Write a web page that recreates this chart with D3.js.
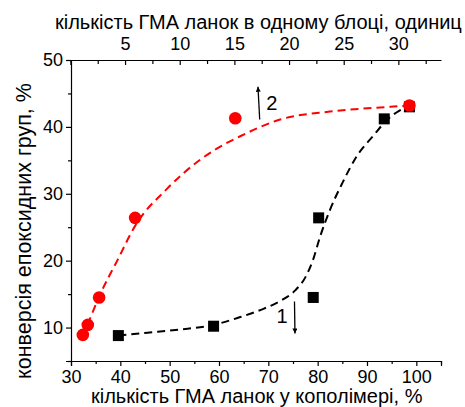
<!DOCTYPE html>
<html>
<head>
<meta charset="utf-8">
<script src="https://cdn.jsdelivr.net/npm/d3@7/dist/d3.min.js"></script>
<style>
  html, body { margin: 0; padding: 0; background: #fff; }
  svg { display: block; font-family: Arial, "Liberation Sans", sans-serif; }
</style>
</head>
<body>
<svg id="chart" width="465" height="407"></svg>
<script>
// Series 1 (squares): epoxy-group conversion vs GMA content in copolymer
const series1X = [39.6, 58.9, 79.1, 80.2, 93.5, 98.6];
const series1Y = [8.8, 10.2, 14.5, 26.4, 41.2, 43.0];
// Series 2 (circles)
const series2X = [32.4, 33.4, 35.7, 43.0, 63.3, 98.6];
const series2Y = [8.9, 10.4, 14.5, 26.4, 41.3, 43.2];

// Dashed trend lines
const fit1X = [39.6, 45, 52, 58.9, 64, 69, 72.5, 75.5, 77.5, 79, 80.5, 82.5, 85, 88, 91.3, 94, 96.5, 98.6];
const fit1Y = [8.8, 9.2, 9.7, 10.4, 11.5, 12.8, 14.0, 15.6, 17.5, 20.0, 23.6, 27.6, 31.6, 35.7, 38.7, 41.0, 42.4, 43.1];
const fit2X = [32.4, 34, 36, 39.3, 43, 49.4, 56.2, 61.6, 64.3, 72.4, 82.5, 94.7, 98.6];
const fit2Y = [8.6, 11.6, 15.1, 19.9, 25.2, 30.7, 35.1, 37.6, 38.6, 41.1, 42.3, 43.0, 43.2];

// Axis ticks and labels
const xTicks = d3.range(30, 106, 5);
const xLabels = [30, 40, 50, 60, 70, 80, 90, 100];
const topTicks = d3.range(0, 34, 2.5);
const topLabels = [5, 10, 15, 20, 25, 30];
const yTicks = d3.range(5, 51, 5);
const yLabels = [10, 20, 30, 40, 50];

const xTitle = "кількість ГМА ланок у кополімері, %";
const topTitle = "кількість ГМА ланок в одному блоці, одиниц";
const yTitle = "конверсія епоксидних груп, %";

// Arrow annotations in data units, plus labels
const arrows = [
  { x1: 68.25, y1: 41.1, x2: 67.9, y2: 46.0, label: "2", lx: 70.7, ly: 43.6 },
  { x1: 75.3, y1: 13.9, x2: 75.4, y2: 9.1, label: "1", lx: 72.8, ly: 11.7 }
];

const svg = d3.select("#chart");
const plotLeft = 71, plotRight = 441, plotTop = 60, plotBottom = 361;

const x = d3.scaleLinear().domain([30, 105]).range([plotLeft, plotRight]);
const xTop = d3.scaleLinear().domain([0, 33.9]).range([plotLeft - 0.6, plotRight]);
const y = d3.scaleLinear().domain([5, 50]).range([plotBottom, plotTop]);

const fontSize = 18;

// Bottom axis
const gx = svg.append("g").attr("transform", `translate(0,${plotBottom})`)
  .call(d3.axisBottom(x).tickValues(xTicks)
    .tickFormat(d => xLabels.includes(d) ? d : "")
    .tickSizeOuter(0).tickSize(5).tickPadding(4));
gx.selectAll(".tick line").attr("y2", d => xLabels.includes(d) ? 5 : 3);

// Top axis (ticks pointing into the plot)
const gt = svg.append("g").attr("transform", `translate(0,${plotTop})`)
  .call(d3.axisTop(xTop).tickValues(topTicks)
    .tickFormat(d => topLabels.includes(d) ? d : "")
    .tickSizeOuter(0).tickSizeInner(-5).tickPadding(10));
gt.selectAll(".tick line").attr("y2", d => (d % 5 === 0) ? 5 : 4);

// Left axis
const gy = svg.append("g").attr("transform", `translate(${plotLeft},0)`)
  .call(d3.axisLeft(y).tickValues(yTicks)
    .tickFormat(d => yLabels.includes(d) ? d : "")
    .tickSizeOuter(0).tickSize(5).tickPadding(3));
gy.selectAll(".tick line").attr("x2", d => yLabels.includes(d) ? -5 : -3);

[gx, gt, gy].forEach(g => {
  g.select(".domain").attr("stroke", "#000").attr("stroke-width", 1.2);
  g.selectAll(".tick line").attr("stroke", "#000").attr("stroke-width", 1.2);
  g.selectAll("text").attr("font-size", fontSize).attr("fill", "#000")
    .attr("font-family", "Arial, 'Liberation Sans', sans-serif");
});

// Axis titles
svg.append("text").attr("x", 91).attr("y", 403)
  .attr("font-size", 20).attr("fill", "#000").text(xTitle);
svg.append("text").attr("x", 55).attr("y", 29)
  .attr("font-size", 20).attr("fill", "#000").text(topTitle);
svg.append("text").attr("transform", "translate(31,231) rotate(-90)")
  .attr("text-anchor", "middle")
  .attr("font-size", 21.5).attr("fill", "#000").text(yTitle);

// Dashed trend lines
const line = d3.line().x(d => x(d[0])).y(d => y(d[1])).curve(d3.curveMonotoneX);
svg.append("path").datum(d3.zip(fit1X, fit1Y)).attr("d", line)
  .attr("fill", "none").attr("stroke", "#000").attr("stroke-width", 2)
  .attr("stroke-dasharray", "8,5");
svg.append("path").datum(d3.zip(fit2X, fit2Y)).attr("d", line)
  .attr("fill", "none").attr("stroke", "#ff0000").attr("stroke-width", 2)
  .attr("stroke-dasharray", "8,5");

// Markers
const sq = 11;
svg.append("g").selectAll("rect").data(d3.zip(series1X, series1Y)).join("rect")
  .attr("x", d => x(d[0]) - sq / 2).attr("y", d => y(d[1]) - sq / 2)
  .attr("width", sq).attr("height", sq).attr("fill", "#000");
svg.append("g").selectAll("circle").data(d3.zip(series2X, series2Y)).join("circle")
  .attr("cx", d => x(d[0])).attr("cy", d => y(d[1])).attr("r", 6.3)
  .attr("fill", "#ff0000");

// Arrows with series numbers
const defs = svg.append("defs");
defs.append("marker").attr("id", "head").attr("viewBox", "0 0 10 10")
  .attr("refX", 10).attr("refY", 5).attr("markerWidth", 9).attr("markerHeight", 5)
  .attr("markerUnits", "userSpaceOnUse").attr("orient", "auto")
  .append("path").attr("d", "M0,0 L10,5 L0,10 Z").attr("fill", "#000");

arrows.forEach(a => {
  svg.append("line")
    .attr("x1", x(a.x1)).attr("y1", y(a.y1)).attr("x2", x(a.x2)).attr("y2", y(a.y2))
    .attr("stroke", "#000").attr("stroke-width", 1.3).attr("marker-end", "url(#head)");
  svg.append("text").attr("x", x(a.lx)).attr("y", y(a.ly))
    .attr("text-anchor", "middle").attr("dominant-baseline", "central")
    .attr("font-size", 20).attr("fill", "#000").text(a.label);
});
</script>
</body>
</html>
